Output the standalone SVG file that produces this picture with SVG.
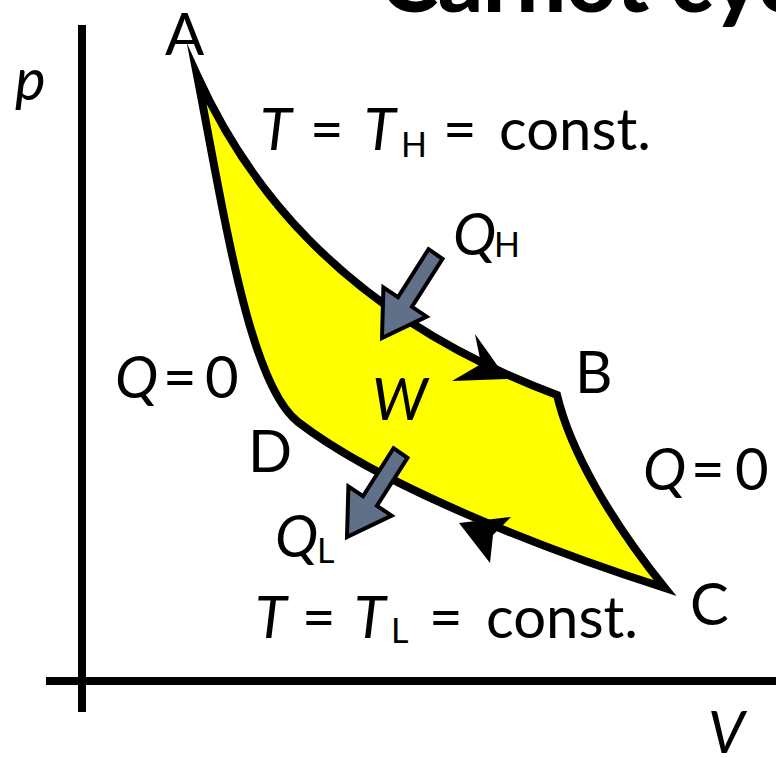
<svg xmlns="http://www.w3.org/2000/svg" width="776" height="758" viewBox="0 0 776 758">
<style>
.t{font-family:Lato,"Open Sans","DejaVu Sans",sans-serif;font-size:58px;fill:#000}
.i{font-style:italic}
.s{font-size:34px}
.title{font-family:Lato,"Liberation Sans",sans-serif;font-weight:900;font-size:88px;fill:#000}
.ax{stroke:#000;stroke-width:8;fill:none}
.cyc{fill:#ffff00;stroke:#000;stroke-width:8;stroke-linejoin:miter;stroke-miterlimit:20}
.heat{fill:#607089;stroke:#000;stroke-width:4;stroke-linejoin:miter}
</style>
<rect width="776" height="758" fill="#fff"/>
<text class="title" x="380" y="12">Carnot cycle</text>
<g id="axes">
<line class="ax" x1="82" y1="25" x2="82" y2="712"/>
<line class="ax" x1="46" y1="681" x2="776" y2="681"/>
<text class="t i" x="15" y="100">p</text>
<text class="t i" x="708" y="753">V</text>
</g>
<g id="cycle">
<path class="cyc" d="M197,75 C240,170 330,310 557,395 C570,450 610,520 665,588 C540,548 380,485 298,422 C250,385 225,220 197,75 Z"/>
</g>
<g id="connectors">
<polygon points="475,334 507,379 452,381 481,364" fill="#000"/>
<polygon points="459,523 511,517 493,535 490,563" fill="#000"/>
<polygon class="heat" points="428.5,249.2 442.5,258.8 412,306.8 426.6,316.6 382,338 383.4,287.4 398,297.2"/>
<polygon class="heat" points="393.5,448.2 407.5,457.8 377,505.8 391.6,515.6 347,537 348.4,486.4 363,496.2"/>
</g>
<g id="nodeA"><text class="t" x="165" y="55">A</text></g>
<g id="nodeB"><text class="t" x="575" y="393">B</text></g>
<g id="nodeC"><text class="t" x="690" y="625">C</text></g>
<g id="nodeD"><text class="t" x="248" y="472">D</text></g>
<g id="labelW"><text class="t i" x="372" y="420">W</text></g>
<g id="labelTH"><text class="t"><tspan class="i" x="260" y="150">T</tspan><tspan x="310" y="150">=</tspan><tspan class="i" x="364" y="150">T</tspan><tspan class="s" x="401" y="157">H</tspan><tspan x="443" y="150">=</tspan><tspan x="499" y="150">const.</tspan></text></g>
<g id="labelTL"><text class="t"><tspan class="i" x="255" y="638">T</tspan><tspan x="302" y="638">=</tspan><tspan class="i" x="354" y="638">T</tspan><tspan class="s" x="391" y="643">L</tspan><tspan x="429" y="638">=</tspan><tspan x="486" y="638">const.</tspan></text></g>
<g id="labelQ0left"><text class="t"><tspan class="i" x="115" y="398">Q</tspan><tspan x="163" y="398">=</tspan><tspan x="205" y="398">0</tspan></text></g>
<g id="labelQ0right"><text class="t"><tspan class="i" x="643" y="490">Q</tspan><tspan x="691" y="490">=</tspan><tspan x="735" y="490">0</tspan></text></g>
<g id="labelQH"><text class="t"><tspan class="i" x="453" y="255">Q</tspan><tspan class="s" x="494" y="257">H</tspan></text></g>
<g id="labelQL"><text class="t"><tspan class="i" x="275" y="557">Q</tspan><tspan class="s" x="317" y="563">L</tspan></text></g>
</svg>
